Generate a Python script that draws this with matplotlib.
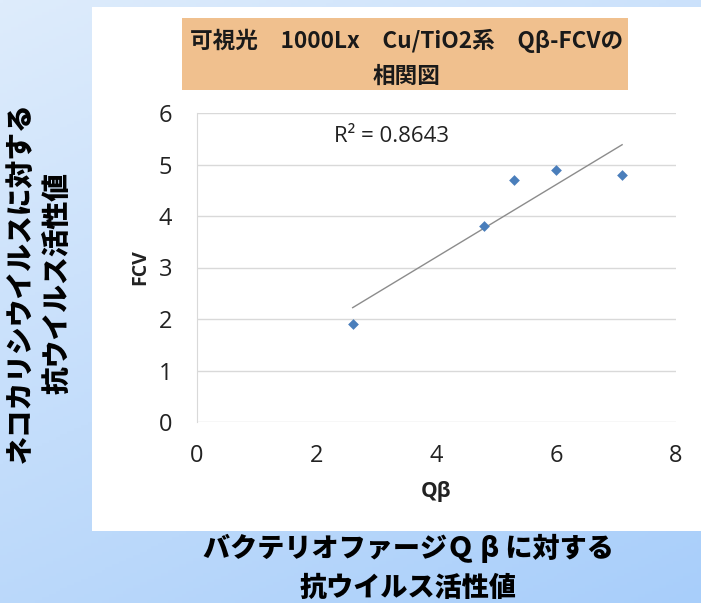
import numpy as np
import matplotlib
matplotlib.use("Agg")
import matplotlib.pyplot as plt
from matplotlib.patches import Rectangle

plt.rcParams['font.family'] = ['Open Sans', 'Noto Sans CJK JP', 'DejaVu Sans']

# data
qb = [2.6, 4.8, 5.3, 6.0, 7.1]
fcv = [1.9, 3.8, 4.7, 4.9, 4.8]
r2_text = "R\u00b2 = 0.8643"
title_text = "可視光　1000Lx　Cu/TiO2系　Qβ-FCVの\n相関図"
ylabel_outer = "ネコカリシウイルスに対する\n抗ウイルス活性値"
xlabel_outer = "バクテリオファージＱ β に対する\n抗ウイルス活性値"
xticks = [0, 2, 4, 6, 8]
yticks = [0, 1, 2, 3, 4, 5, 6]

W, H = 701, 603
fig = plt.figure(figsize=(W / 100, H / 100), dpi=100)

# slide background gradient
bg = fig.add_axes([0, 0, 1, 1], zorder=-10)
gx, gy = np.meshgrid(np.linspace(0, 1, 200), np.linspace(0, 1, 200))
t = np.clip(0.35 * gx + 0.65 * gy, 0, 1)
top = np.array([222, 236, 252]) / 255
bot = np.array([168, 206, 250]) / 255
img = top[None, None, :] * (1 - t[..., None]) + bot[None, None, :] * t[..., None]
bg.imshow(img, extent=[0, 1, 0, 1], aspect='auto', origin='upper')
bg.set_xlim(0, 1)
bg.set_ylim(0, 1)
bg.axis('off')

def px(x, y):
    return x / W, 1 - y / H

cjk = ['Noto Sans CJK JP', 'DejaVu Sans']

# white chart panel
x0, y0 = px(92, 531)
x1, y1 = px(701, 7)
bg.add_patch(Rectangle((x0, y0), x1 - x0, y1 - y0, facecolor='white', edgecolor='none'))

# title box
x0, y0 = px(182, 90)
x1, y1 = px(628, 18)
bg.add_patch(Rectangle((x0, y0), x1 - x0, y1 - y0, facecolor='#F0C08E', edgecolor='none'))
fig.text(407 / W, 1 - 58 / H, title_text, ha='center', va='center', fontsize=16.3,
         fontweight='bold', family=cjk, linespacing=1.65, color='#1a1a1a')

# plot area
ax = fig.add_axes([197 / W, 1 - 422 / H, (676 - 197) / W, (422 - 113) / H])
ax.set_facecolor('none')
ax.scatter(qb, fcv, marker='D', s=30, color='#4A7EBB', zorder=3, linewidths=0)

# linear trend line across the data range
k, b = np.polyfit(qb, fcv, 1)
xs = np.array([min(qb), max(qb)])
ax.plot(xs, k * xs + b, color='#8C8C8C', lw=1, zorder=2)

ax.text(2.28, 5.55, r2_text, fontsize=16, va='center', ha='left', color='#222222')

ax.set_xlim(0, 8)
ax.set_ylim(0, 6)
ax.set_xticks(xticks)
ax.set_yticks(yticks)
ax.grid(axis='y', color='#D9D9D9', lw=1)
ax.set_axisbelow(True)
for s in ['top', 'right', 'bottom']:
    ax.spines[s].set_visible(False)
ax.spines['left'].set_color('#D9D9D9')
ax.tick_params(length=0, labelsize=17, pad=18, colors='#222222')
ax.tick_params(axis='x', pad=16)
ax.set_xlabel("Qβ", fontsize=15, fontweight='bold', color='#222222', labelpad=9)
ax.set_ylabel("FCV", fontsize=14, fontweight='bold', color='#222222', labelpad=6)

# outer slide labels
fig.text(39.5 / W, 1 - 283 / H, ylabel_outer, rotation=90, ha='center', va='center',
         fontsize=20, fontweight='black', family=cjk, linespacing=1.38)
fig.text(408 / W, 1 - 568 / H, xlabel_outer, ha='center', va='center',
         fontsize=19.5, fontweight='black', family=cjk, linespacing=1.45)

fig.savefig("out.png", dpi=100)
